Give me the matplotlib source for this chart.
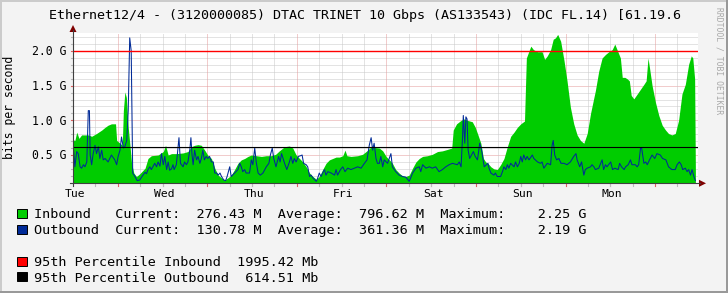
import matplotlib
matplotlib.use('Agg')
import matplotlib.pyplot as plt
from matplotlib import transforms
from matplotlib.patches import Rectangle, Polygon
from matplotlib.lines import Line2D
import numpy as np

# ---------------- data (hours since start, Gbps) ----------------
inbound_points = [
    (0.0, 0.72), (0.5, 0.71), (1.0, 0.83), (1.6, 0.74), (2.3, 0.79), (4.1, 0.79), (5.0, 0.77),
    (6.3, 0.81), (7.7, 0.86), (8.6, 0.90), (9.4, 0.93), (10.3, 0.95), (11.4, 0.95), (11.7, 0.71),
    (12.6, 0.67), (13.2, 0.64), (13.5, 1.14), (13.9, 1.41), (14.3, 1.33), (14.8, 0.90), (15.3, 0.62),
    (15.7, 0.38), (16.3, 0.24), (17.0, 0.19), (17.9, 0.23), (19.3, 0.31), (20.1, 0.45), (21.0, 0.49),
    (22.8, 0.50), (24.2, 0.55), (24.8, 0.64), (25.5, 0.50), (26.4, 0.52), (27.7, 0.52), (29.5, 0.53),
    (30.8, 0.55), (31.7, 0.62), (32.6, 0.64), (33.5, 0.65), (34.4, 0.64), (35.3, 0.57), (36.2, 0.49),
    (37.1, 0.45), (38.0, 0.31), (38.9, 0.21), (39.8, 0.17), (40.6, 0.14), (41.5, 0.17), (42.4, 0.21),
    (43.3, 0.29), (44.2, 0.38), (45.1, 0.43), (46.0, 0.45), (46.9, 0.48), (47.8, 0.50), (49.1, 0.49),
    (50.5, 0.48), (51.8, 0.49), (53.1, 0.49), (54.3, 0.51), (55.3, 0.56), (56.7, 0.62), (58.0, 0.63),
    (58.9, 0.60), (59.8, 0.50), (60.7, 0.45), (61.6, 0.40), (62.5, 0.33), (63.4, 0.24), (64.3, 0.19),
    (65.2, 0.15), (66.0, 0.19), (66.9, 0.29), (67.8, 0.38), (68.7, 0.43), (69.6, 0.45), (70.5, 0.47),
    (71.4, 0.47), (72.3, 0.49), (72.9, 0.57), (73.4, 0.49), (74.5, 0.48), (76.3, 0.49), (77.6, 0.51),
    (79.0, 0.57), (79.9, 0.62), (80.7, 0.61), (82.1, 0.60), (83.0, 0.56), (83.9, 0.48), (84.8, 0.43),
    (85.6, 0.38), (86.5, 0.29), (87.4, 0.24), (88.3, 0.20), (89.2, 0.19), (90.1, 0.21), (91.0, 0.31),
    (91.9, 0.40), (92.8, 0.45), (93.7, 0.48), (95.0, 0.49), (96.3, 0.51), (97.7, 0.55), (99.0, 0.56),
    (100.3, 0.58), (101.5, 0.60), (101.9, 0.86), (102.8, 0.95), (104.0, 1.00), (104.8, 1.02),
    (105.7, 1.00), (107.0, 0.98), (107.8, 0.90), (108.4, 0.81), (109.3, 0.67), (110.0, 0.45),
    (110.6, 0.40), (111.2, 0.38), (112.0, 0.33), (112.8, 0.30), (113.7, 0.29), (114.6, 0.36),
    (115.5, 0.45), (116.4, 0.62), (117.3, 0.77), (118.2, 0.83), (119.1, 0.90), (120.0, 0.95),
    (121.0, 0.99), (121.5, 1.90), (122.2, 2.00), (122.7, 2.07), (123.4, 2.02), (124.5, 1.99),
    (125.7, 1.99), (126.4, 1.88), (127.1, 1.93), (128.0, 2.02), (128.7, 2.17), (129.3, 2.19),
    (129.9, 2.24), (130.7, 2.14), (131.6, 1.86), (132.4, 1.57), (133.3, 1.19), (134.2, 0.95),
    (135.1, 0.79), (136.0, 0.71), (136.9, 0.67), (137.8, 0.81), (138.7, 1.10), (139.6, 1.33),
    (140.0, 1.43), (140.9, 1.71), (141.8, 1.90), (142.7, 1.95), (143.6, 1.99), (144.5, 2.02),
    (145.2, 2.10), (145.8, 2.02), (146.7, 1.90), (147.2, 1.62), (147.9, 1.62), (148.5, 1.60),
    (149.1, 1.57), (149.6, 1.36), (150.3, 1.31), (151.2, 1.38), (152.1, 1.45), (153.0, 1.52),
    (153.6, 1.57), (154.1, 1.90), (154.5, 1.76), (155.2, 1.50), (156.1, 1.26), (157.0, 1.07),
    (157.9, 0.93), (158.8, 0.86), (159.6, 0.81), (160.5, 0.79), (161.4, 0.81), (162.3, 1.00),
    (163.2, 1.38), (164.1, 1.52), (165.0, 1.81), (165.7, 1.93), (166.1, 1.90), (166.6, 1.60),
    (166.8, 0.28),
]

outbound_points = [
    (0.0, 0.67), (0.5, 0.33), (1.0, 0.55), (1.4, 0.52), (1.9, 0.33), (2.3, 0.31), (2.8, 0.36),
    (3.2, 0.33), (3.7, 0.40), (4.1, 1.14), (4.4, 1.14), (4.6, 0.50), (5.0, 0.36), (5.4, 0.52),
    (5.9, 0.64), (6.3, 0.52), (6.8, 0.62), (7.2, 0.45), (7.7, 0.57), (8.1, 0.43), (8.6, 0.45),
    (9.4, 0.40), (10.3, 0.50), (11.2, 0.43), (11.7, 0.36), (12.1, 0.48), (12.6, 0.57), (13.0, 0.76),
    (13.5, 0.60), (13.9, 0.62), (14.4, 0.71), (14.8, 1.14), (15.2, 2.19), (15.6, 2.00), (16.0, 0.24),
    (16.6, 0.19), (17.2, 0.13), (17.9, 0.14), (18.5, 0.19), (19.3, 0.25), (19.7, 0.23), (20.1, 0.29),
    (20.6, 0.33), (21.0, 0.29), (21.9, 0.38), (22.4, 0.33), (22.8, 0.40), (23.3, 0.34), (23.7, 0.52),
    (24.2, 0.36), (24.6, 0.48), (25.1, 0.29), (25.5, 0.40), (25.9, 0.28), (26.4, 0.30), (26.8, 0.36),
    (27.1, 0.29), (27.7, 0.36), (28.4, 0.75), (28.8, 0.38), (29.5, 0.33), (29.9, 0.40), (30.4, 0.36),
    (30.8, 0.40), (31.3, 0.57), (31.6, 0.75), (31.9, 0.50), (32.2, 0.36), (32.6, 0.57), (33.1, 0.43),
    (33.5, 0.48), (34.0, 0.38), (34.4, 0.45), (34.8, 0.57), (35.2, 0.43), (35.7, 0.48), (36.1, 0.45),
    (36.6, 0.48), (37.1, 0.40), (37.6, 0.40), (38.0, 0.24), (38.5, 0.24), (38.9, 0.21), (39.4, 0.24),
    (39.8, 0.19), (40.4, 0.14), (40.9, 0.13), (41.3, 0.19), (42.0, 0.33), (42.4, 0.19), (43.3, 0.24),
    (44.2, 0.29), (44.7, 0.38), (45.1, 0.33), (45.5, 0.26), (46.0, 0.29), (46.4, 0.24), (47.3, 0.24),
    (47.8, 0.43), (48.2, 0.36), (48.7, 0.60), (49.1, 0.40), (49.6, 0.24), (50.2, 0.21), (50.9, 0.24),
    (51.8, 0.33), (52.5, 0.38), (52.9, 0.50), (53.4, 0.60), (53.8, 0.45), (54.4, 0.33), (55.1, 0.48),
    (55.5, 0.40), (55.9, 0.52), (56.7, 0.38), (57.3, 0.29), (58.0, 0.40), (58.4, 0.48), (58.9, 0.38),
    (59.3, 0.45), (59.8, 0.40), (60.4, 0.48), (61.0, 0.49), (61.4, 0.50), (61.8, 0.38), (62.5, 0.36),
    (62.9, 0.33), (63.4, 0.19), (63.8, 0.21), (64.3, 0.17), (64.8, 0.14), (65.2, 0.12), (65.6, 0.17),
    (66.0, 0.24), (66.5, 0.19), (66.9, 0.24), (67.4, 0.29), (67.8, 0.21), (68.3, 0.26), (69.2, 0.24),
    (70.1, 0.21), (70.5, 0.29), (70.9, 0.21), (71.7, 0.29), (72.3, 0.33), (72.9, 0.26), (73.6, 0.31),
    (74.5, 0.29), (75.4, 0.31), (76.3, 0.33), (77.2, 0.31), (78.1, 0.38), (78.8, 0.43), (79.4, 0.64),
    (79.9, 0.75), (80.3, 0.57), (80.7, 0.67), (81.2, 0.45), (81.6, 0.38), (82.1, 0.38), (82.5, 0.48),
    (83.0, 0.33), (83.4, 0.43), (84.3, 0.38), (85.2, 0.52), (85.6, 0.33), (86.1, 0.29), (86.5, 0.26),
    (87.4, 0.21), (88.3, 0.19), (89.2, 0.18), (90.1, 0.12), (90.5, 0.17), (91.0, 0.24), (91.9, 0.31),
    (92.8, 0.33), (93.2, 0.26), (93.7, 0.36), (94.6, 0.31), (95.5, 0.33), (96.3, 0.31), (97.2, 0.33),
    (98.1, 0.26), (99.0, 0.29), (99.9, 0.33), (100.8, 0.36), (101.7, 0.38), (103.0, 0.36),
    (103.5, 0.40), (104.0, 0.33), (104.4, 0.76), (104.6, 1.07), (105.0, 0.67), (105.3, 1.05),
    (105.6, 1.02), (105.9, 0.57), (106.3, 0.45), (106.8, 0.50), (107.3, 0.55), (107.8, 0.48),
    (108.4, 0.43), (109.0, 0.67), (109.5, 0.57), (110.2, 0.33), (110.8, 0.36), (111.2, 0.38),
    (111.5, 0.31), (112.0, 0.24), (112.8, 0.21), (113.2, 0.24), (113.7, 0.19), (114.6, 0.19),
    (115.1, 0.26), (115.5, 0.33), (116.0, 0.29), (116.4, 0.36), (116.8, 0.31), (117.3, 0.38),
    (118.2, 0.33), (118.6, 0.40), (119.1, 0.33), (119.6, 0.38), (120.0, 0.48), (120.4, 0.40),
    (120.8, 0.50), (121.3, 0.43), (121.7, 0.48), (122.2, 0.43), (123.1, 0.50), (123.5, 0.45),
    (124.5, 0.40), (125.3, 0.38), (125.7, 0.40), (126.2, 0.31), (127.1, 0.38), (128.0, 0.36),
    (128.4, 0.64), (128.7, 0.71), (129.1, 0.50), (129.6, 0.43), (130.2, 0.45), (130.8, 0.38),
    (131.6, 0.38), (132.4, 0.36), (133.3, 0.40), (134.2, 0.48), (134.8, 0.52), (135.1, 0.43),
    (135.8, 0.33), (136.3, 0.40), (136.9, 0.21), (137.3, 0.29), (137.8, 0.31), (138.7, 0.33),
    (139.1, 0.36), (139.6, 0.33), (140.0, 0.29), (140.9, 0.31), (141.8, 0.43), (142.2, 0.29),
    (142.7, 0.36), (143.1, 0.33), (144.1, 0.40), (144.6, 0.29), (145.2, 0.31), (146.1, 0.29),
    (146.5, 0.38), (147.0, 0.33), (147.7, 0.29), (148.1, 0.33), (148.8, 0.36), (149.4, 0.43),
    (149.8, 0.36), (150.7, 0.36), (151.2, 0.33), (151.6, 0.36), (152.1, 0.60), (152.4, 0.60),
    (153.0, 0.38), (153.5, 0.40), (153.9, 0.36), (154.5, 0.43), (155.2, 0.50), (155.9, 0.45),
    (156.5, 0.52), (157.4, 0.50), (158.0, 0.45), (158.9, 0.43), (159.6, 0.33), (160.5, 0.29),
    (161.4, 0.29), (161.9, 0.36), (162.5, 0.40), (163.0, 0.36), (163.4, 0.29), (164.1, 0.31),
    (164.6, 0.26), (165.0, 0.29), (165.5, 0.21), (165.9, 0.29), (166.4, 0.19), (166.8, 0.13),
]

day_labels = ['Tue', 'Wed', 'Thu', 'Fri', 'Sat', 'Sun', 'Mon']
day_label_hours = [0, 24, 48, 72, 96, 120, 144]
y_tick_values = [0.5, 1.0, 1.5, 2.0]
y_tick_labels = ['0.5 G', '1.0 G', '1.5 G', '2.0 G']
pct95_in_mb = 1995.42
pct95_out_mb = 614.51

title = 'Ethernet12/4 - (3120000085) DTAC TRINET 10 Gbps (AS133543) (IDC FL.14) [61.19.6'
legend_rows = [
    ('#00CC00', 'Inbound   Current:  276.43 M  Average:  796.62 M  Maximum:    2.25 G'),
    ('#002A97', 'Outbound  Current:  130.78 M  Average:  361.36 M  Maximum:    2.19 G'),
    ('#FF0000', '95th Percentile Inbound  %.2f Mb' % pct95_in_mb),
    ('#000000', '95th Percentile Outbound  %.2f Mb' % pct95_out_mb),
]

# ---------------- figure ----------------
W, H = 728, 293
MONO = 'DejaVu Sans Mono'
fig = plt.figure(figsize=(W / 100, H / 100), dpi=100, facecolor='#F3F3F3')


def fx(px):
    return px / W


def fy(py):
    return 1 - py / H


X0, X1, Y0, Y1 = 73, 698, 183.3, 33
ax = fig.add_axes([fx(X0), fy(Y0), fx(X1) - fx(X0), fy(Y1) - fy(Y0)])
ax.set_facecolor('white')
ax.set_xlim(0, 167.5)
YMIN, YMAX = 0.092, 2.26
ax.set_ylim(YMIN, YMAX)
for s in ax.spines.values():
    s.set_visible(False)
ax.set_xticks([])
ax.set_yticks([])

# grid
dot = (0, (1, 1))
minor_y = [v for v in np.round(np.arange(0.1, 2.25, 0.1), 2) if abs(v / 0.5 - round(v / 0.5)) > 1e-6]
major_y = y_tick_values
for v in minor_y:
    ax.axhline(v, color='#C8C8C8', lw=0.72, ls=dot, zorder=1)
for v in major_y:
    ax.axhline(v, color='#E49A9A', lw=0.72, ls=dot, zorder=1)
major_x = list(range(12, 168, 24))
minor_x = [h for h in range(6, 168, 6) if h not in major_x]
for h in minor_x:
    ax.axvline(h, color='#C8C8C8', lw=0.72, ls=dot, zorder=1)
for h in major_x:
    ax.axvline(h, color='#E49A9A', lw=0.72, ls=dot, zorder=1)

# data
h_in = [p[0] for p in inbound_points]
v_in = [p[1] for p in inbound_points]
h_out = [p[0] for p in outbound_points]
v_out = [p[1] for p in outbound_points]
ax.fill_between(h_in, YMIN, v_in, color='#00CC00', lw=0, zorder=2)
ax.plot(h_out, v_out, color='#002A97', lw=0.75, zorder=3)
ax.axhline(pct95_in_mb / 1000, color='#FF0000', lw=1.0, zorder=5, snap=True)
ax.axhline(pct95_out_mb / 1000, color='#000000', lw=0.8, zorder=4, snap=True)

# axes lines, ticks, arrows
AX_COL = '#404040'
fig.add_artist(Line2D([fx(70), fx(700)], [fy(Y0), fy(Y0)], color=AX_COL, lw=0.8))
fig.add_artist(Line2D([fx(X0), fx(X0)], [fy(186), fy(30)], color=AX_COL, lw=0.8))
bx = transforms.blended_transform_factory(ax.transData, fig.transFigure)
by = transforms.blended_transform_factory(fig.transFigure, ax.transData)
for h in minor_x + day_label_hours[1:]:
    ax.add_artist(Line2D([h, h], [fy(Y0 + 0.5), fy(Y0 + 3)], transform=bx, color='#BBBBBB', lw=0.8, clip_on=False))
for h in major_x:
    ax.add_artist(Line2D([h, h], [fy(Y0 + 0.5), fy(Y0 + 3)], transform=bx, color='#E06060', lw=0.8, clip_on=False))
for v in minor_y:
    ax.add_artist(Line2D([fx(70.5), fx(X0)], [v, v], transform=by, color='#BBBBBB', lw=0.8, clip_on=False))
for v in major_y:
    ax.add_artist(Line2D([fx(70.5), fx(X0)], [v, v], transform=by, color='#E06060', lw=0.8, clip_on=False))
ARROW = '#7F0000'
fig.add_artist(Polygon([[fx(699), fy(Y0 - 3.5)], [fx(706), fy(Y0)], [fx(699), fy(Y0 + 3.5)]],
                       closed=True, color=ARROW, lw=0))
fig.add_artist(Polygon([[fx(X0 - 3.5), fy(32)], [fx(X0), fy(25)], [fx(X0 + 3.5), fy(32)]],
                       closed=True, color=ARROW, lw=0))

# tick labels
ylab_tr = transforms.offset_copy(by, fig=fig, x=0, y=-4.2, units='dots')
for v, lab in zip(y_tick_values, y_tick_labels):
    ax.text(fx(66), v, lab, transform=ylab_tr, ha='right', va='baseline',
            fontsize=8.3, family=MONO, color='black', clip_on=False)
for h, lab in zip(day_label_hours, day_labels):
    ax.text(h + 0.5, fy(196.7), lab, transform=bx, ha='center', va='baseline',
            fontsize=8.2, family=MONO, color='black', clip_on=False)

fig.text(fx(10), fy(107), 'bits per second', rotation=90, ha='center', va='center',
         fontsize=8.3, family=MONO, color='black')

# title and watermark
fig.text(fx(365), fy(18.5), title, ha='center', va='baseline', fontsize=9.6, family=MONO, color='black')
fig.text(fx(718.5), fy(7), 'RRDTOOL / TOBI OETIKER', rotation=270, ha='center', va='top',
         fontsize=5.8, family=MONO, color='#A8A8A8')

# legend
baselines = [218.3, 234.3, 266.0, 281.7]
for (col, txt), b in zip(legend_rows, baselines):
    fig.add_artist(Rectangle((fx(17), fy(b - 0.5)), fx(10), fy(0) - fy(9), facecolor=col,
                             edgecolor='black', lw=0.7))
    fig.text(fx(34), fy(b), txt, ha='left', va='baseline', fontsize=9.7, family=MONO, color='black')

# frame (3D shade)
fig.add_artist(Rectangle((0, fy(H)), fx(1.5), 1, facecolor='#CBCBCB', lw=0))
fig.add_artist(Rectangle((0, fy(1.5)), 1, 1.5 / H, facecolor='#CBCBCB', lw=0))
fig.add_artist(Rectangle((fx(W - 2.5), 0), fx(2.5), 1, facecolor='#999999', lw=0))
fig.add_artist(Rectangle((0, 0), 1, 2.5 / H, facecolor='#999999', lw=0))

fig.savefig('out.png', dpi=100, facecolor=fig.get_facecolor())
